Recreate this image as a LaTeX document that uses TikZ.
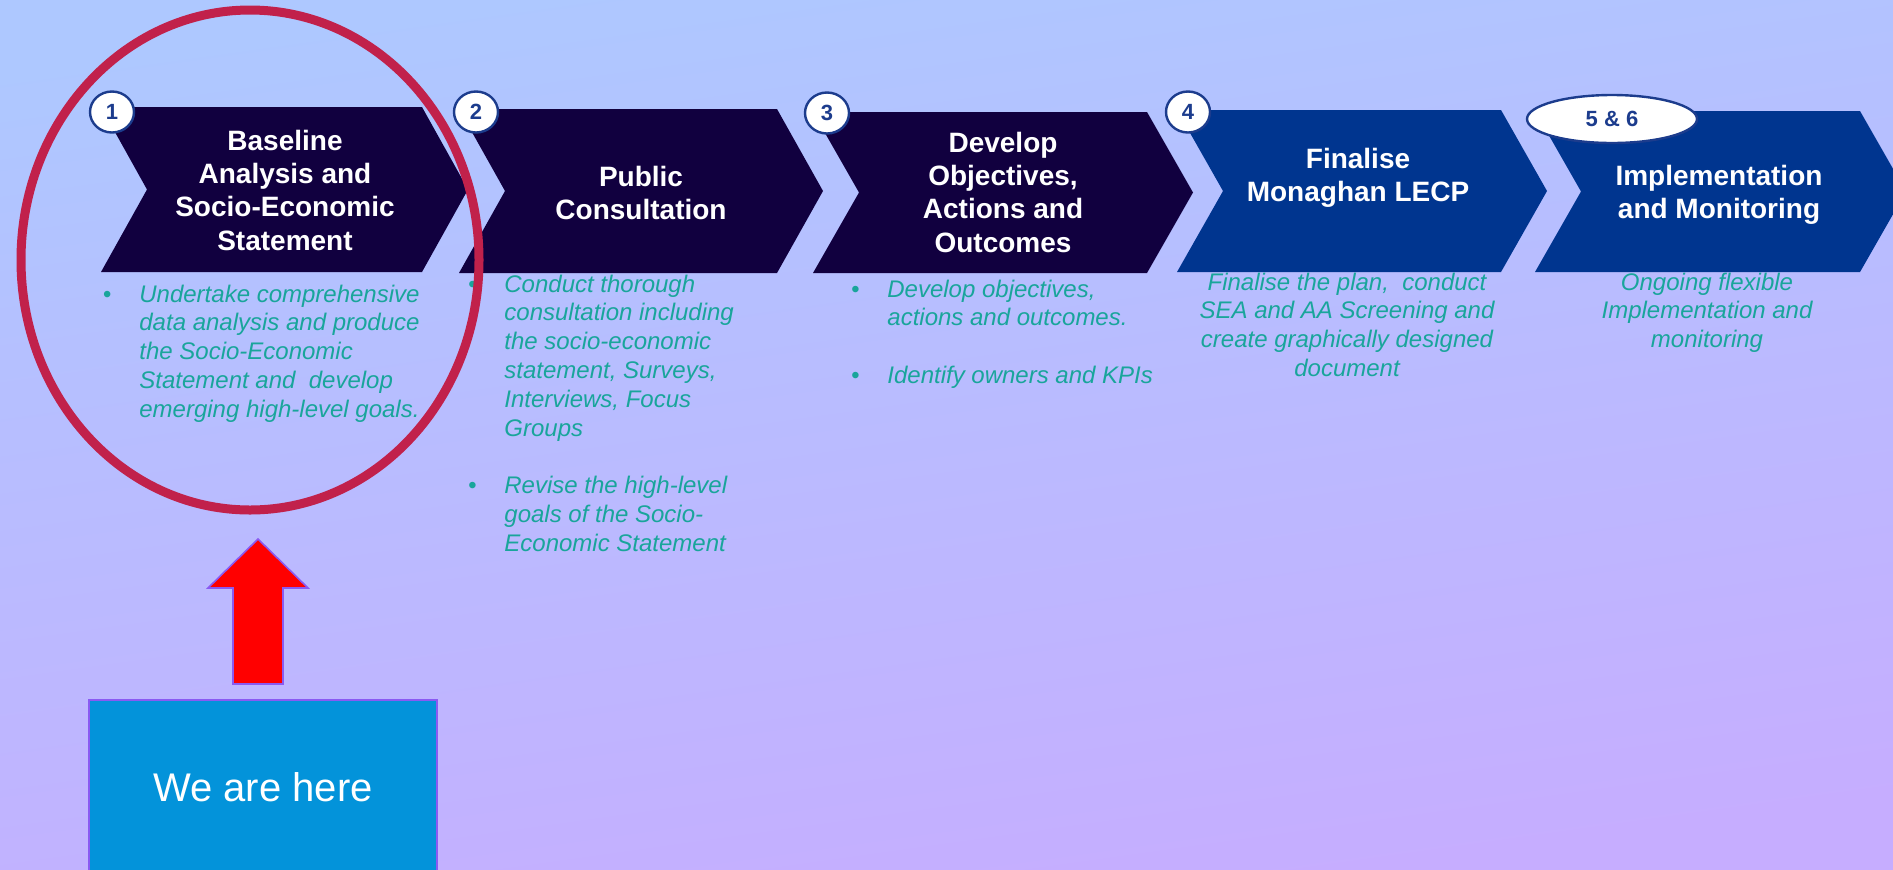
\documentclass[tikz,border=0pt]{standalone}
\usepackage{fontspec}
\setmainfont{Liberation Sans}
\usetikzlibrary{shapes.geometric}

\definecolor{bgtop}{HTML}{AEC8FF}
\definecolor{bgbot}{HTML}{C6ADFF}
\definecolor{stepdark}{HTML}{11003F}
\definecolor{stepblue}{HTML}{00358F}
\definecolor{badgeblue}{HTML}{1C3C8D}
\definecolor{noteteal}{HTML}{19A59B}
\definecolor{ringred}{HTML}{C1214B}
\definecolor{edgeviolet}{HTML}{8A5AF2}
\definecolor{herecyan}{HTML}{0393DA}

% one step of the process: left x, right x, top y, bottom y, colour
\newcommand{\stepshape}[5]{%
  \fill[#5] (#1,#4) -- ({#1+46},{(#3+#4)/2}) -- (#1,#3) -- (#2,#3)
    -- ({#2+46},{(#3+#4)/2}) -- (#2,#4) -- cycle;%
}
\newcommand{\notebullet}{\llap{\textbullet\hspace{14pt}}}

\tikzset{
  steptitle/.style={text=white, font=\fontsize{14}{16.7}\selectfont\bfseries,
    inner sep=0pt, anchor=base},
  badge/.style={ellipse, draw=badgeblue, line width=1.2pt, fill=white,
    text=badgeblue, font=\fontsize{11}{13}\selectfont\bfseries, inner sep=0pt},
  note/.style={text=noteteal, font=\fontsize{12}{14.4}\selectfont\itshape,
    inner sep=0pt, anchor=base west},
  herebox/.style={rectangle, fill=herecyan, draw=edgeviolet, line width=0.75pt,
    text=white, font=\fontsize{20}{24}\selectfont,
    minimum width=174pt, minimum height=87pt},
}

\begin{document}
\begin{tikzpicture}[x=0.5pt, y=-0.5pt]

\useasboundingbox (0,0) rectangle (1893,869);
\shade[top color=bgtop, bottom color=bgbot, shading angle=8] (0,0) rectangle (1893,869);

% the five steps
\stepshape{101}{422}{107}{272}{stepdark}
\stepshape{459}{777}{109}{273}{stepdark}
\stepshape{813}{1147}{112}{273}{stepdark}
\stepshape{1177}{1501}{110}{272}{stepblue}
\stepshape{1535}{1860}{111}{272}{stepblue}

\node[steptitle] (t1) at (285,150) {\begin{tabular}[t]{@{}c@{}}Baseline\\Analysis and\\Socio-Economic\\Statement\end{tabular}};
\node[steptitle] (t2) at (641,186) {\begin{tabular}[t]{@{}c@{}}Public\\Consultation\end{tabular}};
\node[steptitle] (t3) at (1003,152) {\begin{tabular}[t]{@{}c@{}}Develop\\Objectives,\\Actions and\\Outcomes\end{tabular}};
\node[steptitle] (t4) at (1358,168) {\begin{tabular}[t]{@{}c@{}}Finalise\\Monaghan LECP\end{tabular}};
\node[steptitle] (t5) at (1719,185) {\begin{tabular}[t]{@{}c@{}}Implementation\\and Monitoring\end{tabular}};

% numbers
\node[badge, minimum width=22pt, minimum height=20.5pt] (b1) at (112,112) {1};
\node[badge, minimum width=22pt, minimum height=20.5pt] (b2) at (476,112) {2};
\node[badge, minimum width=22pt, minimum height=20.5pt] (b3) at (827,113) {3};
\node[badge, minimum width=22pt, minimum height=20.5pt] (b4) at (1188,112) {4};
\node[badge, minimum width=85pt, minimum height=24pt] (b56) at (1612,119) {5 \& 6};

% what each step does
\node[note] (n1) at (139,302) {\begin{tabular}[t]{@{}l@{}}\notebullet Undertake comprehensive\\data analysis and produce\\the Socio-Economic\\Statement and~ develop\\emerging high-level goals.\end{tabular}};
\node[note] (n2) at (504,292) {\begin{tabular}[t]{@{}l@{}}\notebullet Conduct thorough\\consultation including\\the socio-economic\\statement, Surveys,\\Interviews, Focus\\Groups\\[14.4pt]\notebullet Revise the high-level\\goals of the Socio-\\Economic Statement\end{tabular}};
\node[note] (n3) at (887,297) {\begin{tabular}[t]{@{}l@{}}\notebullet Develop objectives,\\actions and outcomes.\\[14.4pt]\notebullet Identify owners and KPIs\end{tabular}};
\node[note, anchor=base] (n4) at (1347,290) {\begin{tabular}[t]{@{}c@{}}Finalise the plan,~ conduct\\SEA and AA Screening and\\create graphically designed\\document\end{tabular}};
\node[note, anchor=base] (n5) at (1707,290) {\begin{tabular}[t]{@{}c@{}}Ongoing flexible\\Implementation and\\monitoring\end{tabular}};

% current position
\draw[ringred, line width=4.5pt] (250,260) ellipse [x radius=229, y radius=250];
\filldraw[fill=red, draw=edgeviolet, line width=0.8pt] (258,539) -- (308,588) -- (283,588)
  -- (283,684) -- (233,684) -- (233,588) -- (208,588) -- cycle;
\node[herebox] (here) at (263,787) {We are here};

\end{tikzpicture}
\end{document}
